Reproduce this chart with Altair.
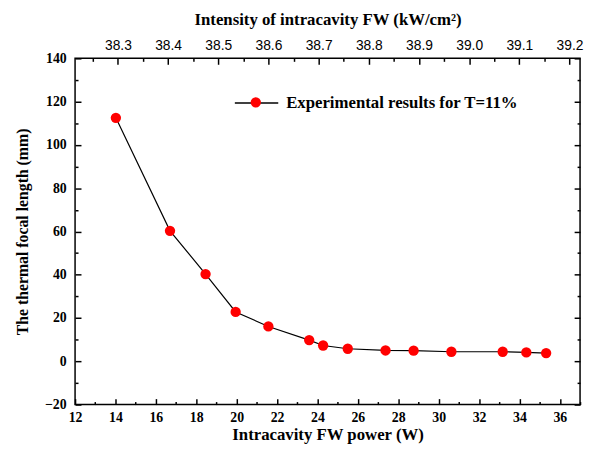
import altair as alt
import pandas as pd

# ---- data ----
power = [14.02, 16.70, 18.46, 19.95, 21.57, 23.59, 24.28, 25.50, 27.37, 28.76, 30.63, 33.17, 34.34, 35.32]
focal = [112.5, 60.3, 40.3, 22.8, 16.1, 9.8, 7.3, 5.8, 5.0, 4.9, 4.4, 4.4, 4.1, 3.8]
series_name = "Experimental results for T=11%"

x_major = [12, 14, 16, 18, 20, 22, 24, 26, 28, 30, 32, 34, 36]
x_minor = [13, 15, 17, 19, 21, 23, 25, 27, 29, 31, 33, 35, 37]
y_major = [-20, 0, 20, 40, 60, 80, 100, 120, 140]
y_minor = [-10, 10, 30, 50, 70, 90, 110, 130]
top_major = [38.3, 38.4, 38.5, 38.6, 38.7, 38.8, 38.9, 39.0, 39.1, 39.2]
top_minor = [38.25, 38.35, 38.45, 38.55, 38.65, 38.75, 38.85, 38.95, 39.05, 39.15]

X_DOMAIN = [12, 37]
Y_DOMAIN = [-20, 140]
TOP_DOMAIN = [38.2146, 39.221]

df = pd.DataFrame({"P": power, "f": focal, "s_line": series_name, "s_pt": series_name})
axis_df = pd.DataFrame({"I": TOP_DOMAIN, "f": [0, 0]})

SERIF = "Liberation Serif"
SANS = "Liberation Sans"

xs = alt.Scale(domain=X_DOMAIN, nice=False, zero=False)
ys = alt.Scale(domain=Y_DOMAIN, nice=False, zero=False)
ts = alt.Scale(domain=TOP_DOMAIN, nice=False, zero=False)

common = dict(domain=False, grid=False, tickColor="black", tickWidth=1.5)

ax_bottom = alt.Axis(orient="bottom", values=x_major, offset=-6, tickSize=6, labelFlush=False,
                     labelFont=SERIF, labelFontWeight="bold", labelFontSize=14, labelColor="black",
                     labelPadding=6, format="d", labelOverlap=False,
                     title="Intracavity FW power (W)", titleFont=SERIF, titleFontWeight="bold",
                     titleFontSize=17, titleColor="black", titlePadding=2, **common)
ax_bottom_minor = alt.Axis(orient="bottom", values=x_minor, offset=-3, tickSize=3, labels=False,
                           title=None, **common)
ax_left = alt.Axis(orient="left", values=y_major, offset=-6, tickSize=6, labelFlush=False,
                   labelFont=SERIF, labelFontWeight="bold", labelFontSize=14, labelColor="black",
                   labelPadding=9, format="d", labelOverlap=False,
                   title="The thermal focal length (mm)", titleFont=SERIF, titleFontWeight="bold",
                   titleFontSize=16, titleColor="black", titlePadding=14, **common)
ax_left_minor = alt.Axis(orient="left", values=y_minor, offset=-3, tickSize=3, labels=False,
                         title=None, **common)
ax_top = alt.Axis(orient="top", values=top_major, offset=-6, tickSize=6, labelFlush=False,
                  labelFont=SANS, labelFontSize=14, labelColor="black", labelPadding=6,
                  format=".1f", labelOverlap=False,
                  title="Intensity of intracavity FW (kW/cm²)", titleFont=SERIF, titleFontWeight="bold",
                  titleFontSize=17, titleColor="black", titlePadding=10, **common)
ax_top_minor = alt.Axis(orient="top", values=top_minor, offset=-3, tickSize=3, labels=False,
                        title=None, **common)
ax_right = alt.Axis(orient="right", values=y_major, offset=-6, tickSize=6, labels=False,
                    title=None, **common)
ax_right_minor = alt.Axis(orient="right", values=y_minor, offset=-3, tickSize=3, labels=False,
                          title=None, **common)

LEG_X = 161
LEG_CY = 44.3

line = alt.Chart(df).mark_line(color="black", strokeWidth=1.2).encode(
    x=alt.X("P:Q", scale=xs, axis=ax_bottom),
    y=alt.Y("f:Q", scale=ys, axis=ax_left),
    stroke=alt.Stroke("s_line:N", scale=alt.Scale(range=["black"]),
                      legend=alt.Legend(orient="none", legendX=LEG_X, legendY=LEG_CY - 22,
                                        title=None, padding=0, symbolType="M-1,0H1",
                                        symbolSize=1936, symbolStrokeWidth=1.5,
                                        labelFont=SERIF, labelFontWeight="bold", labelFontSize=17,
                                        labelColor="black", labelOffset=7, labelLimit=400)),
)

points = alt.Chart(df).mark_point(filled=True, size=110, opacity=1, strokeWidth=0).encode(
    x=alt.X("P:Q", scale=xs, axis=ax_bottom_minor),
    y=alt.Y("f:Q", scale=ys, axis=ax_left_minor),
    fill=alt.Fill("s_pt:N", scale=alt.Scale(range=["#ff0000"]),
                  legend=alt.Legend(orient="none", legendX=LEG_X + 22 - 5.25, legendY=LEG_CY - 5.25,
                                    title=None, padding=0, symbolType="circle", symbolSize=110,
                                    symbolStrokeWidth=0, labelExpr="''", labelFontSize=1)),
)

top_major_layer = alt.Chart(axis_df).mark_point(opacity=0).encode(
    x=alt.X("I:Q", scale=ts, axis=ax_top),
    y=alt.Y("f:Q", scale=ys, axis=ax_right),
)
top_minor_layer = alt.Chart(axis_df).mark_point(opacity=0).encode(
    x=alt.X("I:Q", scale=ts, axis=ax_top_minor),
    y=alt.Y("f:Q", scale=ys, axis=ax_right_minor),
)

chart = alt.layer(line, points, top_major_layer, top_minor_layer).resolve_scale(
    x="independent", y="independent", stroke="independent", fill="independent"
).resolve_axis(x="independent", y="independent").properties(
    width=512, height=351,
    autosize=alt.AutoSizeParams(type="none"),
    padding={"left": 68, "top": 48, "right": 4, "bottom": 42},
    background="white",
).configure_view(stroke="black", strokeWidth=1.5)

chart.save("out.html", embed_options={"renderer": "svg", "actions": False})
